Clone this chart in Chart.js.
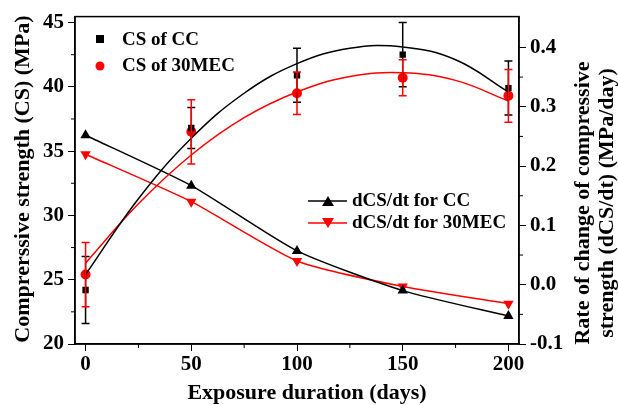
<!DOCTYPE html>
<html>
<head>
<meta charset="utf-8">
<script src="https://cdn.jsdelivr.net/npm/chart.js@4.4.0/dist/chart.umd.min.js"></script>
<style>
  body { margin: 0; background: #fff; }
  #wrap { width: 618px; height: 405px; }
</style>
</head>
<body>
<div id="wrap"><canvas id="c"></canvas></div>
<script>
// measured data
const days = [0, 50, 100, 150, 200];
const csCC = [24.2, 36.8, 40.9, 42.5, 39.9];
const csCCErr = [2.6, 1.6, 2.1, 2.5, 2.1];
const csMEC = [25.4, 36.5, 39.5, 40.7, 39.3];
const csMECErr = [2.5, 2.5, 1.65, 1.4, 2.05];

// fitted curves
const fitDays = [0, 25, 50, 75, 100, 125, 150, 175, 200];
const fitCC = [25.4, 31.3, 36.0, 39.5, 41.8, 43.0, 43.1, 42.1, 39.6];
const fitMEC = [26.3, 30.9, 34.7, 37.6, 39.6, 40.8, 41.1, 40.5, 38.9];

// rate of change (right axis)
const rateCC = [0.252, 0.167, 0.057, -0.01, -0.053];
const rateMEC = [0.22, 0.14, 0.04, -0.003, -0.032];

const leftTicks = [20, 25, 30, 35, 40, 45];
const rightTicks = [-0.1, 0.0, 0.1, 0.2, 0.3, 0.4];
const xTicks = [0, 50, 100, 150, 200];

const RED = '#ff0000';
const FONT = 'Liberation Serif';

const pts = (xs, ys) => xs.map((x, i) => ({ x, y: ys[i] }));

// error bars, minor ticks, frame, titles, legends
const extras = {
  id: 'extras',
  afterDatasetsDraw(chart) {
    const { ctx, scales: { x, y } } = chart;
    ctx.save();
    ctx.lineWidth = 1.5;
    [[csCC, csCCErr, '#000'], [csMEC, csMECErr, RED]].forEach(([vals, errs, col]) => {
      ctx.strokeStyle = col;
      vals.forEach((v, i) => {
        const px = x.getPixelForValue(days[i]);
        const t = y.getPixelForValue(v + errs[i]);
        const b = y.getPixelForValue(v - errs[i]);
        ctx.beginPath();
        ctx.moveTo(px, t); ctx.lineTo(px, b);
        ctx.moveTo(px - 4, t); ctx.lineTo(px + 4, t);
        ctx.moveTo(px - 4, b); ctx.lineTo(px + 4, b);
        ctx.stroke();
      });
    });
    ctx.restore();
  },
  afterDraw(chart) {
    const { ctx, chartArea: a, scales: { x, y, y1 } } = chart;
    ctx.save();
    ctx.strokeStyle = '#000';
    ctx.lineWidth = 1.5;
    ctx.strokeRect(a.left, a.top, a.right - a.left, a.bottom - a.top);

    // minor ticks
    ctx.lineWidth = 1;
    ctx.beginPath();
    [25, 75, 125, 175].forEach(v => {
      const px = x.getPixelForValue(v);
      ctx.moveTo(px, a.bottom); ctx.lineTo(px, a.bottom + 4);
    });
    [22.5, 27.5, 32.5, 37.5, 42.5].forEach(v => {
      const py = y.getPixelForValue(v);
      ctx.moveTo(a.left, py); ctx.lineTo(a.left - 4, py);
    });
    [-0.05, 0.05, 0.15, 0.25, 0.35].forEach(v => {
      const py = y1.getPixelForValue(v);
      ctx.moveTo(a.right, py); ctx.lineTo(a.right + 4, py);
    });
    ctx.stroke();

    // axis titles
    ctx.fillStyle = '#000';
    ctx.font = `bold 22px "${FONT}"`;
    ctx.textAlign = 'center';
    ctx.textBaseline = 'middle';
    ctx.fillText('Exposure duration (days)', (a.left + a.right) / 2 + 10, 393);
    ctx.save();
    ctx.translate(23, 179);
    ctx.rotate(-Math.PI / 2);
    ctx.fillText('Comprerssive strength (CS) (MPa)', 0, 0);
    ctx.restore();
    ctx.save();
    ctx.translate(595, 203);
    ctx.rotate(-Math.PI / 2);
    ctx.fillText('Rate of change of compressive', 0, -12);
    ctx.fillText('strength (dCS/dt) (MPa/day)', 0, 12);
    ctx.restore();

    // legends
    ctx.font = `bold 19px "${FONT}"`;
    ctx.textAlign = 'left';
    ctx.fillRect(96, 35, 8, 8);
    ctx.fillText('CS of CC', 122, 40);
    ctx.fillStyle = RED;
    ctx.beginPath(); ctx.arc(100, 66, 4.5, 0, Math.PI * 2); ctx.fill();
    ctx.fillStyle = '#000';
    ctx.fillText('CS of 30MEC', 122, 66);

    const legendLine = (yy, col, down, label) => {
      ctx.strokeStyle = col; ctx.fillStyle = col; ctx.lineWidth = 1.5;
      ctx.beginPath(); ctx.moveTo(308, yy); ctx.lineTo(347, yy); ctx.stroke();
      ctx.beginPath();
      if (down) { ctx.moveTo(322, yy - 5); ctx.lineTo(334, yy - 5); ctx.lineTo(328, yy + 5); }
      else { ctx.moveTo(322, yy + 5); ctx.lineTo(334, yy + 5); ctx.lineTo(328, yy - 5); }
      ctx.fill();
      ctx.fillStyle = '#000';
      ctx.fillText(label, 352, yy);
    };
    legendLine(201, '#000', false, 'dCS/dt for CC');
    legendLine(223, RED, true, 'dCS/dt for 30MEC');
    ctx.restore();
  }
};

const tickFont = { family: FONT, size: 21, weight: 'bold' };

new Chart(document.getElementById('c'), {
  type: 'scatter',
  data: {
    datasets: [
      {
        label: 'CS of CC fit', data: pts(fitDays, fitCC), showLine: true, yAxisID: 'y',
        borderColor: '#000', borderWidth: 1.5, pointRadius: 0, tension: 0.4, fill: false
      },
      {
        label: 'CS of 30MEC fit', data: pts(fitDays, fitMEC), showLine: true, yAxisID: 'y',
        borderColor: RED, borderWidth: 1.5, pointRadius: 0, tension: 0.4, fill: false
      },
      {
        label: 'dCS/dt for CC', data: pts(days, rateCC), showLine: true, yAxisID: 'y1',
        borderColor: '#000', backgroundColor: '#000', borderWidth: 1.5, tension: 0.2,
        pointStyle: 'triangle', pointRadius: 6, pointBorderWidth: 0
      },
      {
        label: 'dCS/dt for 30MEC', data: pts(days, rateMEC), showLine: true, yAxisID: 'y1',
        borderColor: RED, backgroundColor: RED, borderWidth: 1.5, tension: 0.2,
        pointStyle: 'triangle', rotation: 180, pointRadius: 6, pointBorderWidth: 0
      },
      {
        label: 'CS of CC', data: pts(days, csCC), yAxisID: 'y',
        backgroundColor: '#000', borderColor: '#000', pointStyle: 'rect', pointRadius: 4.5, pointBorderWidth: 0
      },
      {
        label: 'CS of 30MEC', data: pts(days, csMEC), yAxisID: 'y',
        backgroundColor: RED, borderColor: RED, pointStyle: 'circle', pointRadius: 5, pointBorderWidth: 0
      }
    ]
  },
  options: {
    responsive: true,
    maintainAspectRatio: false,
    animation: false,
    layout: { padding: { top: 13, bottom: 0, left: 0, right: 0 } },
    plugins: { legend: { display: false }, tooltip: { enabled: false } },
    scales: {
      x: {
        type: 'linear', min: -5, max: 205,
        afterBuildTicks: s => { s.ticks = xTicks.map(v => ({ value: v })); },
        afterFit: s => { s.height = 61; },
        grid: { drawOnChartArea: false, tickLength: 7, color: '#000', tickWidth: 1 },
        border: { color: '#000', width: 1.5 },
        ticks: { color: '#000', font: tickFont, padding: 1, maxRotation: 0 }
      },
      y: {
        position: 'left', min: 20, max: 45.46,
        afterBuildTicks: s => { s.ticks = leftTicks.map(v => ({ value: v })); },
        afterFit: s => { s.width = 75; },
        grid: { drawOnChartArea: false, tickLength: 7, color: '#000' },
        border: { color: '#000', width: 1.5 },
        ticks: { color: '#000', font: tickFont, padding: 4 }
      },
      y1: {
        position: 'right', min: -0.1, max: 0.452,
        afterBuildTicks: s => { s.ticks = rightTicks.map(v => ({ value: v })); },
        afterFit: s => { s.width = 99; },
        grid: { drawOnChartArea: false, tickLength: 7, color: '#000' },
        border: { color: '#000', width: 1.5 },
        ticks: { color: '#000', font: tickFont, padding: 4, callback: v => v.toFixed(1) }
      }
    }
  },
  plugins: [extras]
});
</script>
</body>
</html>
